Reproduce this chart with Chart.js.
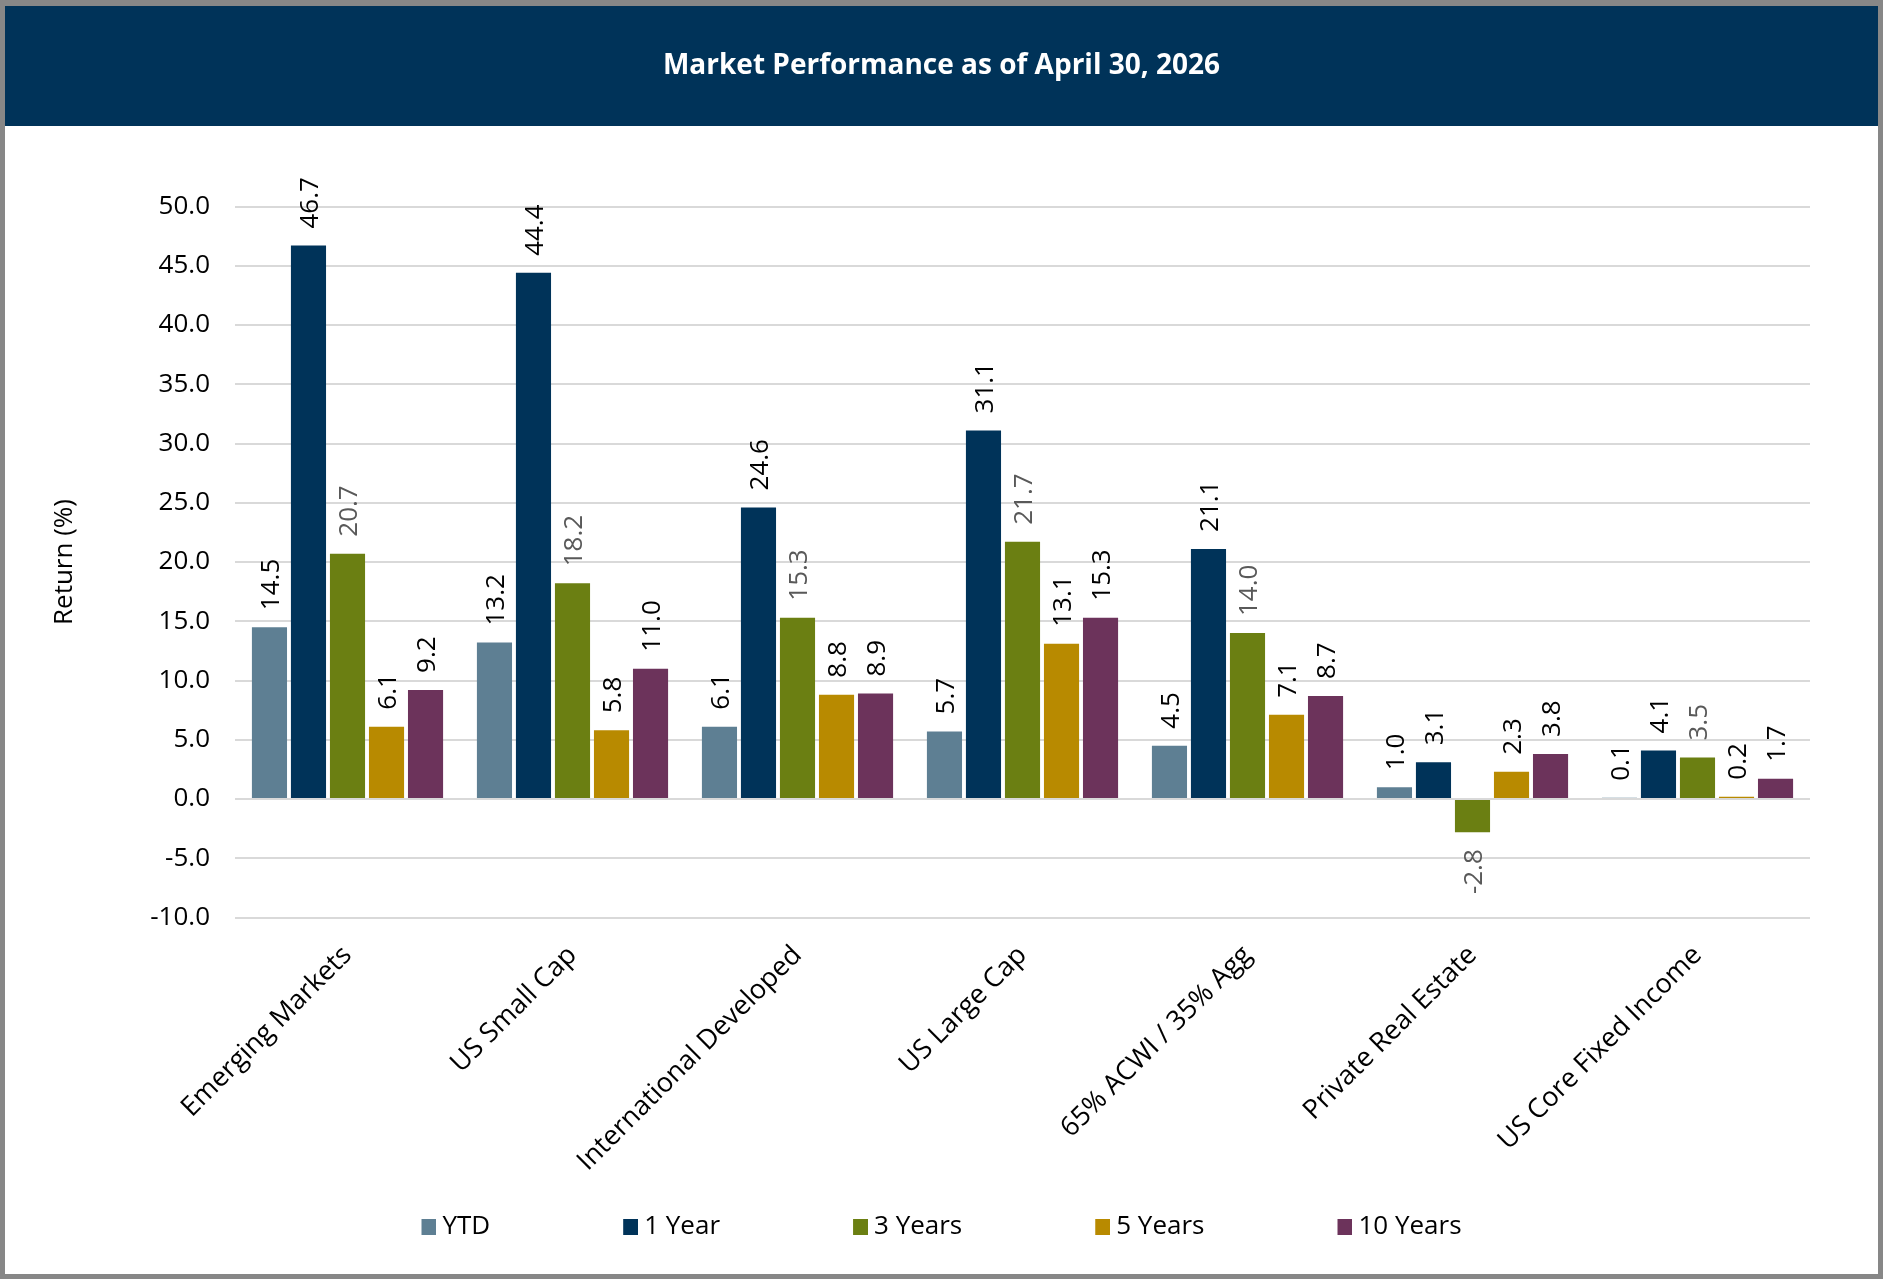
<!DOCTYPE html>
<html>
<head>
<meta charset="utf-8">
<script src="https://cdn.jsdelivr.net/npm/chart.js@4.4.1/dist/chart.umd.min.js"></script>
<style>
  html, body { margin: 0; padding: 0; background: #ffffff; overflow: hidden; }
  #wrap {
    width: 1883px; height: 1279px; box-sizing: border-box;
    border-style: solid; border-color: #878787;
    border-width: 6px 5px 5px 5px; background: #ffffff;
  }
  #box { position: relative; width: 1873px; height: 1268px; }
</style>
</head>
<body>
<div id="wrap"><div id="box"><canvas id="c"></canvas></div></div>
<script>
// ---- data ----
const categories = ['Emerging Markets', 'US Small Cap', 'International Developed', 'US Large Cap', '65% ACWI / 35% Agg', 'Private Real Estate', 'US Core Fixed Income'];
const seriesNames = ['YTD', '1 Year', '3 Years', '5 Years', '10 Years'];
const ytd        = [14.5, 13.2, 6.1, 5.7, 4.5, 1.0, 0.1];
const oneYear    = [46.7, 44.4, 24.6, 31.1, 21.1, 3.1, 4.1];
const threeYears = [20.7, 18.2, 15.3, 21.7, 14.0, -2.8, 3.5];
const fiveYears  = [6.1, 5.8, 8.8, 13.1, 7.1, 2.3, 0.2];
const tenYears   = [9.2, 11.0, 8.9, 15.3, 8.7, 3.8, 1.7];
const yTickValues = [-10, -5, 0, 5, 10, 15, 20, 25, 30, 35, 40, 45, 50];
const chartTitle = 'Market Performance as of April 30, 2026';
const yAxisTitle = 'Return (%)';

// ---- styles ----
const seriesColors = ['#5E7F93', '#003359', '#6B7F12', '#B88A00', '#6C335B'];
const labelColors  = ['#000000', '#000000', '#595959', '#000000', '#000000'];
const FONT = "'Open Sans', 'DejaVu Sans', sans-serif";
const titlePad = { top: 43.2, bottom: 123.7 };
const titleSize = 28;
const LEGEND_GAP = 133;

const seriesValues = [ytd, oneYear, threeYears, fiveYears, tenYears];

// legend swatch image: 15x16 square that sits 6px before the label text
function legendSwatch(color) {
  const c = document.createElement('canvas');
  c.width = 22; c.height = 16;
  const g = c.getContext('2d');
  g.fillStyle = color;
  g.fillRect(7, 0, 15, 16);
  return c;
}

const headerBand = {
  id: 'headerBand',
  beforeDraw(chart) {
    const ctx = chart.ctx;
    const tb = chart.titleBlock;
    const h = tb.top + titlePad.top * 2 + titleSize * 1.2;
    ctx.save();
    ctx.fillStyle = '#003359';
    ctx.fillRect(0, 0, chart.width, h);
    ctx.restore();
  }
};

const barLabels = {
  id: 'barLabels',
  afterDatasetsDraw(chart) {
    const ctx = chart.ctx;
    const size = 26;
    ctx.save();
    ctx.font = size + 'px ' + FONT;
    chart.data.datasets.forEach((ds, di) => {
      const meta = chart.getDatasetMeta(di);
      if (meta.hidden) return;
      meta.data.forEach((el, i) => {
        const v = ds.data[i];
        const txt = v.toFixed(1);
        const top = Math.min(el.y, el.base);
        const bottom = Math.max(el.y, el.base);
        ctx.save();
        ctx.fillStyle = labelColors[di];
        ctx.textBaseline = 'alphabetic';
        if (v >= 0) {
          ctx.translate(el.x, top - 17);
          ctx.rotate(-Math.PI / 2);
          ctx.textAlign = 'left';
        } else {
          ctx.translate(el.x, bottom + 17);
          ctx.rotate(-Math.PI / 2);
          ctx.textAlign = 'right';
        }
        ctx.fillText(txt, 0, size * 0.357);
        ctx.restore();
      });
    });
    ctx.restore();
  }
};

new Chart(document.getElementById('c'), {
  type: 'bar',
  data: {
    labels: categories,
    datasets: seriesNames.map((name, i) => ({
      label: name,
      data: seriesValues[i],
      backgroundColor: seriesColors[i],
      borderWidth: 0,
      categoryPercentage: 0.867,
      barPercentage: 0.9
    }))
  },
  options: {
    responsive: true,
    maintainAspectRatio: false,
    animation: false,
    layout: { padding: { left: 68, right: 68, top: 0, bottom: 24 } },
    plugins: {
      title: {
        display: true,
        text: chartTitle,
        color: '#ffffff',
        font: { family: FONT, size: titleSize, weight: 'bold' },
        padding: titlePad
      },
      legend: {
        position: 'bottom',
        labels: {
          usePointStyle: true,
          pointStyleWidth: 8,
          boxHeight: 16,
          padding: LEGEND_GAP,
          color: '#000000',
          font: { family: FONT, size: 26 },
          generateLabels(chart) {
            return chart.data.datasets.map((ds, i) => ({
              text: ds.label,
              fillStyle: ds.backgroundColor,
              strokeStyle: ds.backgroundColor,
              lineWidth: 0,
              pointStyle: legendSwatch(ds.backgroundColor),
              hidden: !chart.isDatasetVisible(i),
              datasetIndex: i,
              fontColor: '#000000'
            }));
          }
        }
      },
      tooltip: { enabled: false }
    },
    scales: {
      x: {
        grid: { display: false },
        border: { display: false },
        ticks: {
          color: '#000000',
          font: { family: FONT, size: 27 },
          minRotation: 45, maxRotation: 45,
          autoSkip: false,
          padding: 14
        },
        afterFit(scale) {
          // leave room for the wide legend row; let the slanted labels run into it
          scale.height = 1208 - LEGEND_GAP - 911.5;
          scale._computeLabelArea = () => null;
        }
      },
      y: {
        min: -10, max: 50,
        afterBuildTicks(scale) { scale.ticks = yTickValues.map(v => ({ value: v })); },
        grid: { color: '#D9D9D9', lineWidth: 2, drawTicks: false },
        border: { display: false },
        ticks: {
          color: '#000000',
          font: { family: FONT, size: 26 },
          padding: 25,
          callback: (v) => Number(v).toFixed(1)
        },
        title: {
          display: true,
          text: yAxisTitle,
          color: '#000000',
          font: { family: FONT, size: 26 },
          padding: { top: -23.6, bottom: 0 }
        },
        afterFit(scale) { scale.width = 162; }
      }
    }
  },
  plugins: [headerBand, barLabels]
});
</script>
</body>
</html>
